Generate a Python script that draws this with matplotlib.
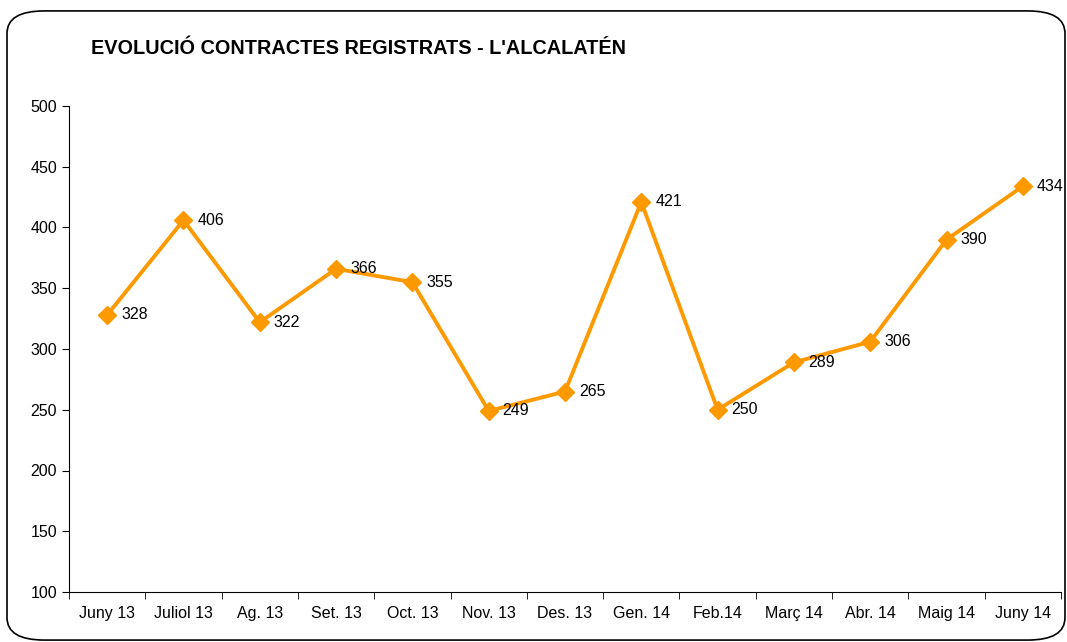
import matplotlib.pyplot as plt
import numpy as np
from matplotlib.patches import FancyBboxPatch

plt.rcParams['font.family'] = ['Liberation Sans', 'DejaVu Sans']

mesos = ["Juny 13", "Juliol 13", "Ag. 13", "Set. 13", "Oct. 13", "Nov. 13", "Des. 13",
         "Gen. 14", "Feb.14", "Març 14", "Abr. 14", "Maig 14", "Juny 14"]
contractes = [328, 406, 322, 366, 355, 249, 265, 421, 250, 289, 306, 390, 434]

fig = plt.figure(figsize=(10.67, 6.42), dpi=100)

# marc arrodonit
marc = FancyBboxPatch((7 / 1067, 0.003), 1058 / 1067, 0.980,
                      boxstyle="round,pad=0,rounding_size=0.035",
                      transform=fig.transFigure, fill=False, edgecolor="black", linewidth=1.2)
fig.patches.append(marc)

ax = fig.add_axes([69 / 1067, 1 - 592 / 642, (1061 - 69) / 1067, (592 - 106) / 642])

x = np.arange(len(mesos))
ax.plot(x, contractes, color="#FF9900", linewidth=2.8, marker="D", markersize=9)

for xi, v in zip(x, contractes):
    ax.annotate(str(v), (xi, v), xytext=(10, 0), textcoords="offset points",
                va="center", ha="left", fontsize=11.5)

ax.set_xlim(-0.5, len(mesos) - 0.5)
ax.set_ylim(100, 500)
ax.set_yticks(range(100, 501, 50))
ax.set_xticks(x)
ax.set_xticklabels(mesos)
ax.set_xticks(np.arange(-0.5, len(mesos), 1), minor=True)
ax.tick_params(axis="x", which="major", length=0, pad=10, labelsize=11.5)
ax.tick_params(axis="x", which="minor", length=5, direction="out")
ax.tick_params(axis="y", length=5, direction="out", labelsize=11.5)

ax.spines["top"].set_visible(False)
ax.spines["right"].set_visible(False)

fig.text(91 / 1067, 1 - 48 / 642, "EVOLUCIÓ CONTRACTES REGISTRATS - L'ALCALATÉN",
         fontsize=14.3, fontweight="bold", va="center", ha="left")

fig.savefig("out.png", dpi=100)
